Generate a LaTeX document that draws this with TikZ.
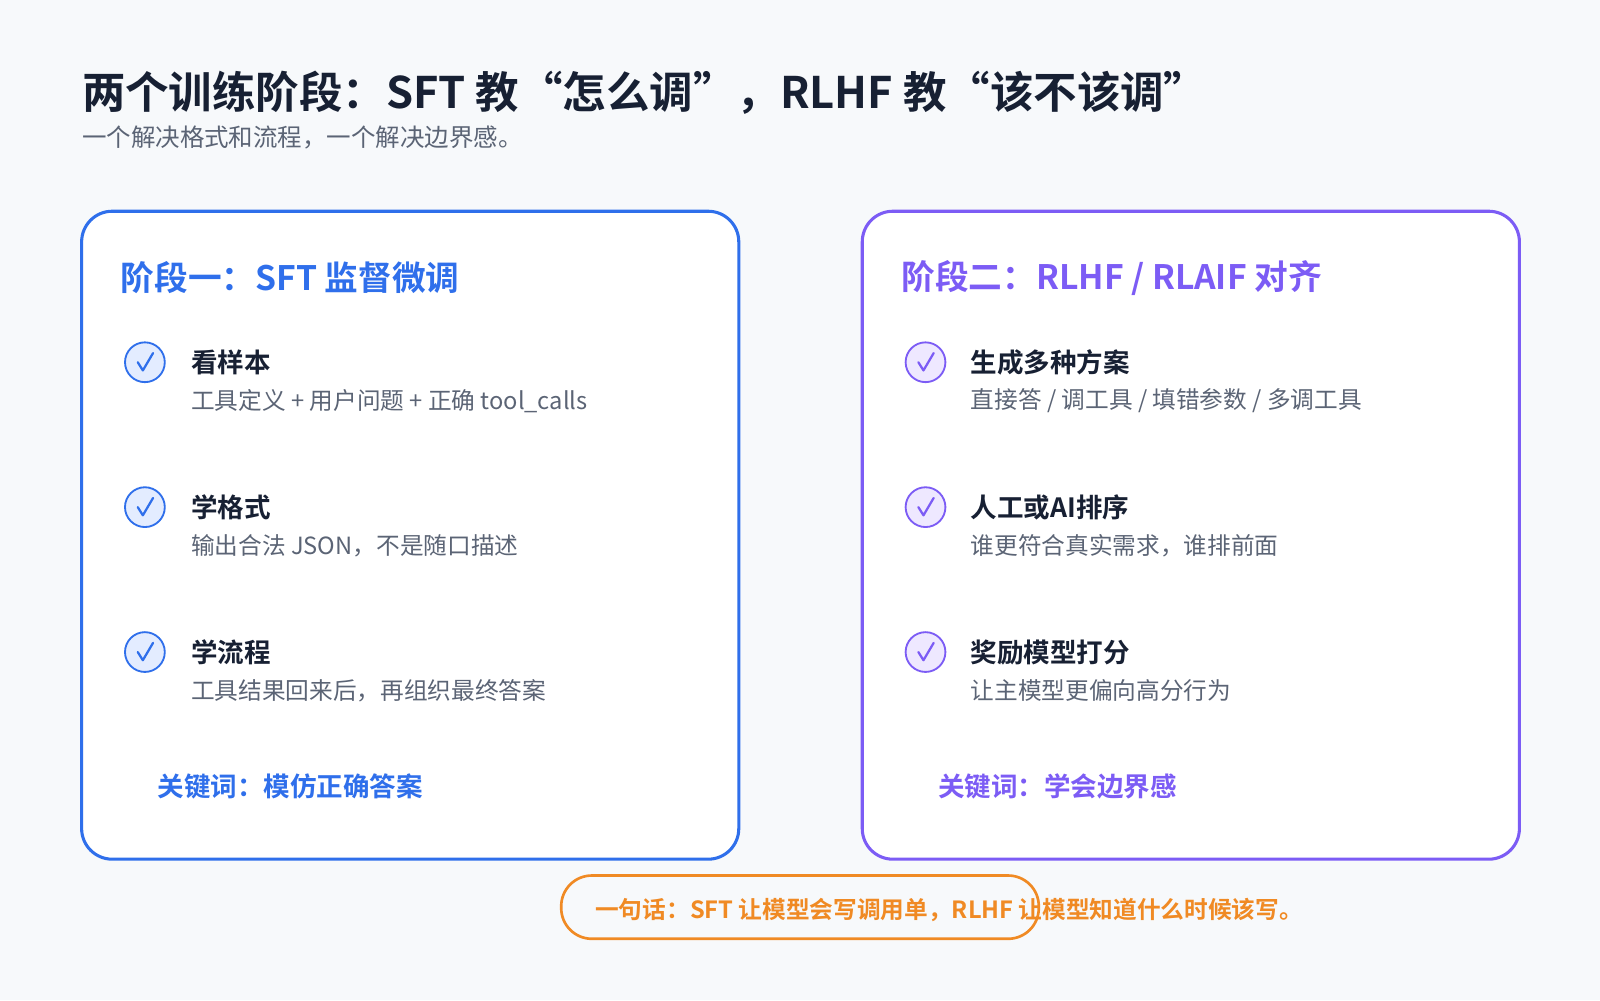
\documentclass[tikz,border=0pt]{standalone}
\usepackage{fontspec}
\setmainfont{Noto Sans CJK SC}
\newfontfamily\cjkb{Noto Sans CJK SC Bold}
\usetikzlibrary{positioning}
\definecolor{ink}{HTML}{172033}
\definecolor{muted}{HTML}{5B6475}
\definecolor{blueA}{HTML}{2F6FEB}
\definecolor{blueL}{HTML}{E3ECFF}
\definecolor{violA}{HTML}{7C5CF5}
\definecolor{violL}{HTML}{EEE8FF}
\definecolor{orng}{HTML}{F08A24}
\definecolor{bg}{HTML}{F7F9FB}
\tikzset{
  card/.style={draw=#1, line width=1.5pt, rounded corners=15pt, fill=white},
  head/.style={anchor=west, text=#1, font=\cjkb\fontsize{16.5}{18}\selectfont, inner sep=0},
  item/.style={anchor=west, text=ink, font=\cjkb\fontsize{13}{15}\selectfont, inner sep=0},
  desc/.style={anchor=west, text=muted, font=\fontsize{11.6}{14}\selectfont, inner sep=0},
  tick/.style={circle, draw=#1, line width=0.9pt, minimum size=19.5pt, inner sep=0},
}
\begin{document}
\begin{tikzpicture}[x=0.5pt, y=-0.5pt]
\fill[bg] (0,0) rectangle (1568,980);
\useasboundingbox (0,0) rectangle (1568,980);
% title
\node[anchor=west, inner sep=0, text=ink, font=\cjkb\fontsize{21.3}{26}\selectfont] (title) at (80,91) {两个训练阶段：SFT 教“怎么调”，RLHF 教“该不该调”};
\node[anchor=west, inner sep=0, text=muted, font=\fontsize{12}{14}\selectfont] (sub) at (80,135) {一个解决格式和流程，一个解决边界感。};
% cards
\draw[card=blueA] (80,207) rectangle (724,842);
\draw[card=violA] (845,207) rectangle (1489,842);
\node[head=blueA] (h1) at (118,272) {阶段一：SFT 监督微调};
\node[head=violA] (h2) at (883,272) {阶段二：RLHF / RLAIF 对齐};
% items
\foreach \y/\t/\d [count=\i] in {355/看样本/{工具定义 + 用户问题 + 正确 tool\_calls},
    497/学格式/{输出合法 JSON，不是随口描述},
    639/学流程/{工具结果回来后，再组织最终答案}} {
  \node[tick=blueA, fill=blueL] (ca\i) at (142,\y) {};
  \draw[blueA, line width=1.1pt, line cap=round, line join=round]
    ([shift={(-7,0)}]ca\i.center) -- ([shift={(-2,8)}]ca\i.center) -- ([shift={(8,-9)}]ca\i.center);
  \node[item] (ta\i) at (187,\y) {\t};
  \node[desc] (da\i) at (187,\y+38) {\d};
}
\foreach \y/\t/\d [count=\i] in {355/生成多种方案/{直接答 / 调工具 / 填错参数 / 多调工具},
    497/人工或AI排序/{谁更符合真实需求，谁排前面},
    639/奖励模型打分/{让主模型更偏向高分行为}} {
  \node[tick=violA, fill=violL] (cb\i) at (907,\y) {};
  \draw[violA, line width=1.1pt, line cap=round, line join=round]
    ([shift={(-7,0)}]cb\i.center) -- ([shift={(-2,8)}]cb\i.center) -- ([shift={(8,-9)}]cb\i.center);
  \node[item] (tb\i) at (951,\y) {\t};
  \node[desc] (db\i) at (951,\y+38) {\d};
}
% keywords
\node[anchor=west, inner sep=0, text=blueA, font=\cjkb\fontsize{13}{15}\selectfont] (k1) at (154,771) {关键词：模仿正确答案};
\node[anchor=west, inner sep=0, text=violA, font=\cjkb\fontsize{13}{15}\selectfont] (k2) at (919,771) {关键词：学会边界感};
% bottom line
\draw[orng, line width=1.3pt, rounded corners=15pt] (550,858) rectangle (1018,920);
\node[anchor=west, inner sep=0, text=orng, font=\cjkb\fontsize{11.6}{14}\selectfont] (note) at (583,892) {一句话：SFT 让模型会写调用单，RLHF 让模型知道什么时候该写。};
\end{tikzpicture}
\end{document}
